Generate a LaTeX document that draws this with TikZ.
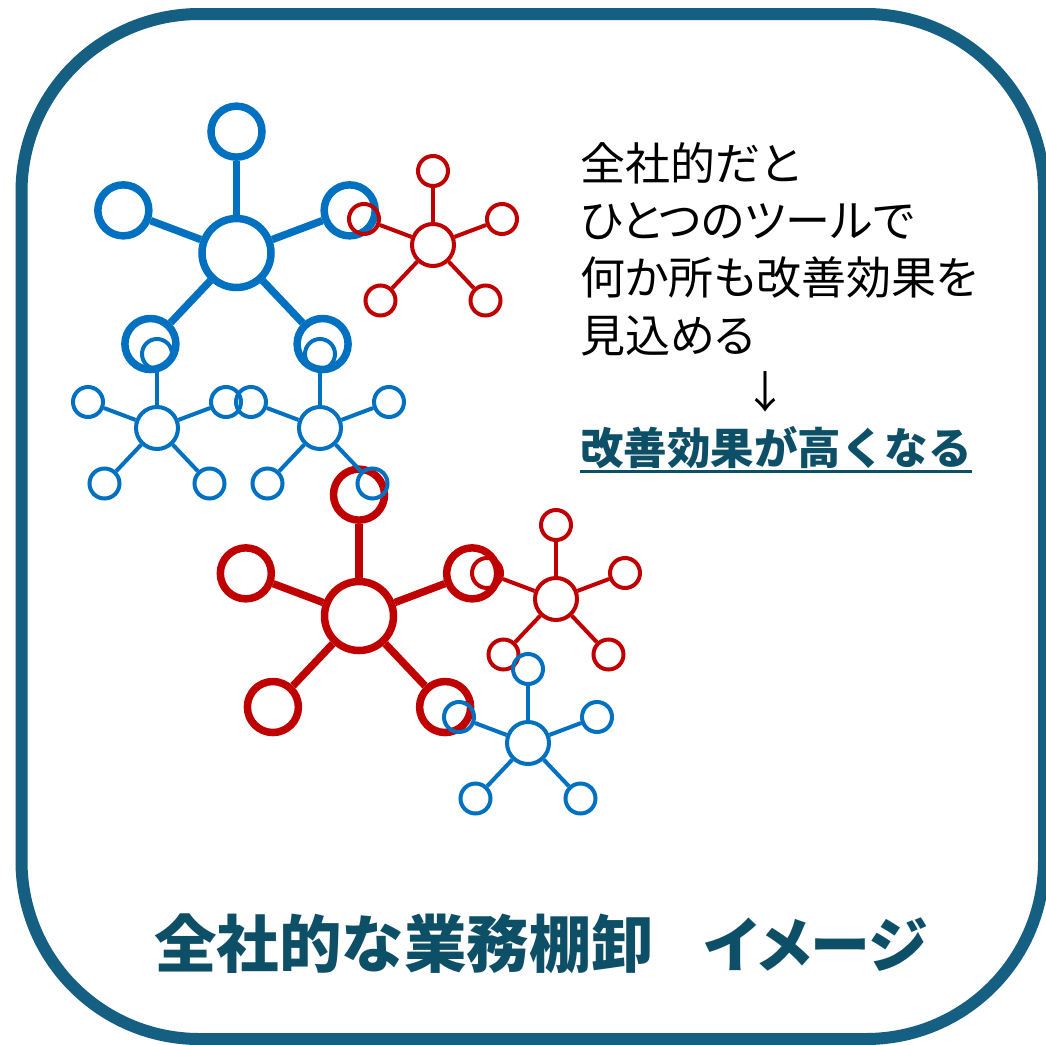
\documentclass[tikz,border=0pt]{standalone}
\usepackage{fontspec}
\newfontfamily\jp[RawFeature=+palt]{Noto Sans CJK JP}
\newfontfamily\jpf{Noto Sans CJK JP}
\definecolor{frame}{HTML}{156082}
\definecolor{ttl}{HTML}{0E4F68}
\definecolor{nblue}{HTML}{0070C0}
\definecolor{nred}{HTML}{C00000}
% #1 name, #2 x, #3 y, #4 scale, #5 colour, #6 hub diameter, #7 satellite diameter, #8 line width
\newcommand\netcluster[8]{%
  \begin{scope}[shift={(#2,#3)}]
    \tikzset{netnode/.style={circle, draw=#5, line width=#8, inner sep=0pt}}
    \node[netnode, minimum size=#6pt] (#1-h) at (0,0) {};
    \node[netnode, minimum size=#7pt] (#1-t) at (0,{-74*#4}) {};
    \node[netnode, minimum size=#7pt] (#1-l) at ({-69*#4},{-26*#4}) {};
    \node[netnode, minimum size=#7pt] (#1-r) at ({69*#4},{-26*#4}) {};
    \node[netnode, minimum size=#7pt] (#1-bl) at ({-52.5*#4},{55.5*#4}) {};
    \node[netnode, minimum size=#7pt] (#1-br) at ({52.5*#4},{55.5*#4}) {};
    \draw[#5, line width=#8] (#1-h) -- (#1-t);
    \draw[#5, line width=#8] (#1-h) -- (#1-l);
    \draw[#5, line width=#8] (#1-h) -- (#1-r);
    \draw[#5, line width=#8] (#1-h) -- (#1-bl);
    \draw[#5, line width=#8] (#1-h) -- (#1-br);
  \end{scope}}
\begin{document}
\begin{tikzpicture}[x=1pt, y=-1pt]
\clip (0,0) rectangle (1046,1044);
\fill[white] (0,0) rectangle (1046,1044);
\draw[frame, line width=12pt, rounded corners=178pt] (21.5,14) rectangle (1044,1039);

\netcluster{BB}{236.5}{253}{1.64}{nblue}{69}{51}{7.5pt}
\netcluster{RA}{433}{245}{1}{nred}{42}{30}{4pt}
\netcluster{RB}{359}{616}{1.64}{nred}{69}{51}{7.5pt}
\netcluster{BL}{157}{428}{1}{nblue}{42}{30}{4pt}
\netcluster{BR}{320}{428}{1}{nblue}{42}{30}{4pt}
\netcluster{RC}{556}{599}{1}{nred}{42}{30}{4pt}
\netcluster{BC}{528}{743}{1}{nblue}{42}{30}{4pt}

\tikzset{jtxt/.style={anchor=base west, inner sep=0pt, font=\jp\fontsize{45}{45}\selectfont}}
\node[jtxt] (l1) at (580,180) {全社的だと};
\node[jtxt] (l2) at (580,237) {ひとつのツールで};
\node[jtxt] (l3) at (580,294) {何か所も改善効果を};
\node[jtxt] (l4) at (580,352) {見込める};
\node[anchor=center, inner sep=0pt, font=\jp\fontsize{44}{44}\selectfont] (arr) at (765,392) {↓};
\node[anchor=base west, inner sep=0pt, text=ttl, font=\jpf\bfseries\fontsize{43.5}{44}\selectfont] (res) at (580,464) {改善効果が高くなる};
\draw[ttl, line width=3pt] ([yshift=-7pt]res.base west) -- ([yshift=-7pt]res.base east);

\node[anchor=base west, inner sep=0pt, text=ttl, font=\jpf\bfseries\fontsize{62.5}{62}\selectfont] (t1) at (154,967) {全社的な業務棚卸};
\node[anchor=base west, inner sep=0pt, text=ttl, font=\jp\bfseries\fontsize{60}{60}\selectfont] (t2) at (704,967) {イメージ};
\end{tikzpicture}
\end{document}
